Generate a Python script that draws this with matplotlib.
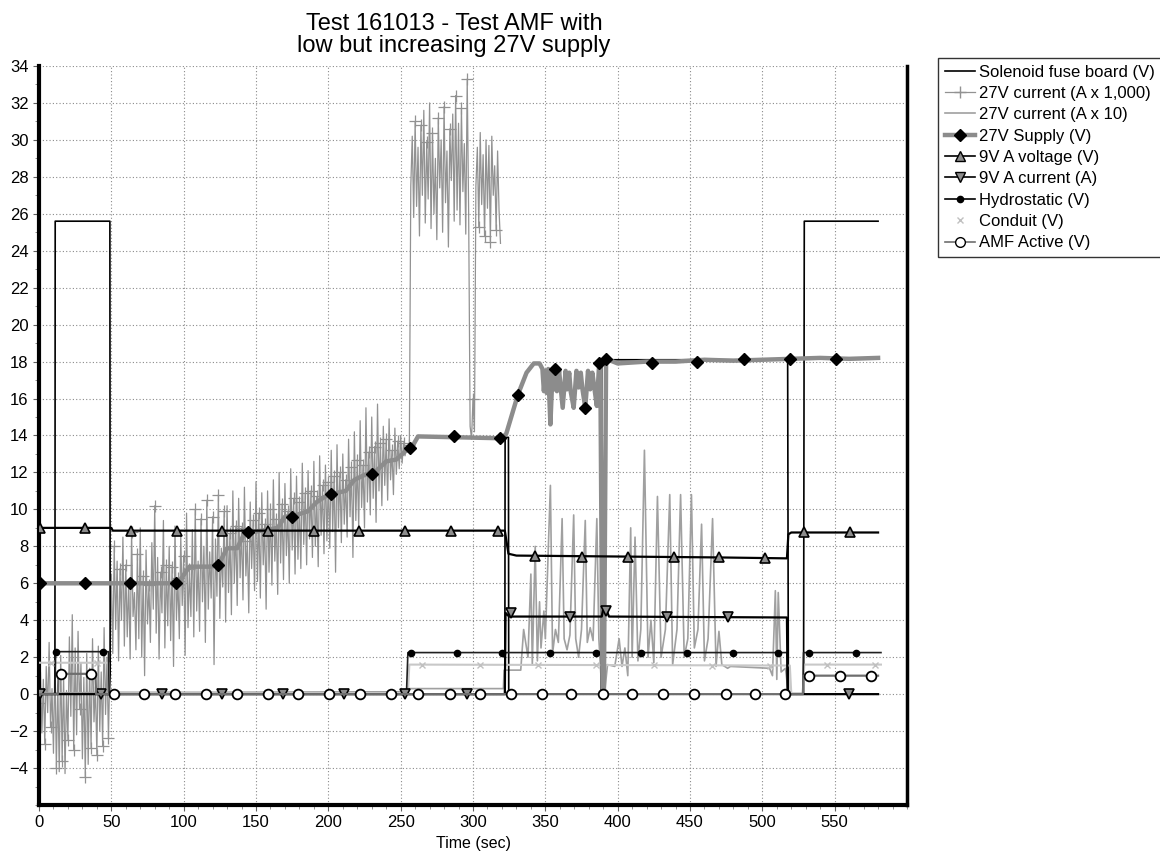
import numpy as np
import matplotlib
matplotlib.use('Agg')
import matplotlib.pyplot as plt
from matplotlib.lines import Line2D
from matplotlib.ticker import MultipleLocator

plt.rcParams['font.family'] = ['Liberation Sans', 'DejaVu Sans']

# --- data ---
# 27V current (A x 1,000), one sample per second, 0..319 s
cur1000 = [
    -0.5, 1.2, -2.1, 0.8, -2.7, 1.5, -1.0, 2.8, -1.8, 0.3,
    -3.2, 1.9, -4.0, 0.5, -4.2, 2.1, -3.6, 1.0, -4.3, 0.2,
    -2.5, 3.1, -1.2, 4.3, -3.0, 2.5, -2.2, 3.4, -0.8, 1.7,
    -3.5, 0.9, -4.5, 2.2, -3.8, 1.4, -2.9, 3.0, -1.5, 0.4,
    -3.3, 2.6, -2.0, 1.2, -2.8, 3.6, -1.1, 2.0, -2.4, 1.5,
    6.5, 2.2, 8.0, 3.5, 7.2, 1.8, 6.8, 4.0, 8.5, 2.6,
    7.0, 3.1, 6.2, 1.9, 8.8, 4.2, 5.5, 2.4, 7.6, 3.0,
    9.0, 2.0, 6.4, 1.0, 7.8, 3.8, 5.9, 2.8, 8.2, 4.6,
    10.2, 3.3, 7.4, 1.9, 6.6, 4.4, 9.4, 2.5, 7.0, 3.7,
    8.0, 2.9, 6.9, 1.5, 9.1, 4.0, 6.3, 3.0, 8.6, 4.8,
    7.5, 2.1, 9.8, 3.6, 6.8, 4.2, 8.9, 3.1, 10.0, 4.5,
    7.2, 3.4, 9.5, 5.0, 8.0, 2.8, 10.5, 4.6, 7.7, 5.2,
    9.6, 1.6, 8.4, 5.3, 10.8, 4.1, 7.9, 5.8, 9.9, 3.9,
    10.2, 5.5, 8.7, 4.3, 11.0, 6.0, 9.1, 4.8, 10.6, 6.3,
    9.0, 5.1, 11.2, 6.4, 8.3, 4.4, 10.4, 6.8, 9.4, 5.6,
    11.5, 6.1, 9.8, 5.2, 10.9, 7.0, 9.2, 4.6, 11.0, 6.6,
    10.0, 5.9, 11.6, 7.2, 9.5, 5.4, 12.0, 7.1, 10.3, 6.2,
    11.4, 7.5, 9.9, 6.0, 12.2, 7.8, 10.6, 6.5, 11.8, 7.3,
    10.4, 6.8, 12.5, 8.1, 10.9, 7.0, 12.1, 8.4, 11.0, 7.4,
    12.6, 8.0, 10.7, 6.9, 12.9, 8.6, 11.3, 7.6, 12.4, 8.3,
    11.5, 7.9, 13.2, 8.8, 11.8, 6.6, 13.5, 9.0, 12.0, 8.2,
    13.0, 9.2, 11.6, 8.5, 13.8, 9.6, 12.3, 7.4, 14.2, 9.4,
    12.7, 8.9, 14.8, 10.1, 12.4, 9.0, 15.5, 10.4, 13.1, 9.7,
    15.0, 10.6, 13.4, 9.3, 15.7, 11.0, 13.6, 10.2, 14.5, 11.3,
    13.8, 10.5, 14.9, 11.6, 13.2, 10.8, 14.4, 11.9, 13.7, 12.2,
    14.0, 12.5, 13.6, 12.9, 13.4, 13.1, 13.5, 27.5, 30.2, 25.8,
    31.0, 26.4, 29.6, 24.8, 30.8, 27.0, 31.6, 25.5, 29.9, 26.8,
    32.0, 25.2, 30.4, 26.0, 29.0, 24.6, 31.2, 27.4, 30.0, 25.0,
    31.8, 26.6, 29.4, 24.2, 30.6, 27.8, 31.4, 25.6, 32.4, 26.2,
    30.9, 25.4, 31.7, 27.2, 29.8, 24.9, 33.3, 26.0, 14.5, 13.8,
    16.0, 14.2, 27.5, 29.6, 25.3, 30.4, 26.5, 29.2, 24.8, 30.0,
    26.3, 29.7, 24.5, 30.2, 27.0, 28.6, 25.1, 29.4, 26.2, 24.4,
]
cur1000_t = np.arange(len(cur1000))

# 27V current (A x 10)
cur10_t = [0, 50, 120, 200, 255, 256, 321, 321.5, 333, 335, 338, 340, 341, 343, 344.5,
           346, 347, 349, 350, 353.5, 355, 357, 359, 361.6, 363, 365, 367, 369.6, 371,
           373, 375, 377.6, 379, 381, 383, 385.6, 387, 389, 391, 393, 398, 401, 403, 405,
           407, 409, 410, 412, 414, 416, 418.5, 421, 423, 425, 427.5, 430, 433, 436, 438,
           441, 443.5, 446, 448.5, 451, 453, 455.5, 458, 460, 462.5, 465.6, 468, 470, 472,
           476, 478, 505, 507, 509, 510, 511, 513, 516, 518, 580]
cur10_v = [0.05, 0.1, 0.1, 0.12, 0.13, 0.3, 0.3, 1.3, 1.3, 3.5, 2.0, 6.5, 1.6, 8.0, 1.8,
           5.0, 2.5, 4.5, 3.0, 11.3, 2.2, 3.5, 2.8, 9.5, 3.0, 2.4, 3.2, 9.7, 3.0,
           2.0, 3.5, 9.4, 2.8, 3.6, 2.9, 9.5, 3.0, 0.2, 0.1, 1.6, 1.5, 3.0, 1.5, 2.5,
           1.0, 9.0, 2.0, 8.5, 1.8, 3.5, 13.2, 2.0, 4.0, 1.7, 10.7, 2.0, 3.5, 10.8, 1.6,
           3.5, 10.8, 2.0, 3.0, 10.8, 2.5, 3.5, 9.2, 1.8, 3.0, 9.5, 1.5, 3.4, 1.6,
           1.4, 1.5, 1.4, 1.0, 5.6, 0.8, 5.5, 1.2, 1.4, 0.0, 0.0]

# Solenoid fuse board (V)
sol_t = [0, 11, 11.2, 49, 49.2, 322, 322.2, 324.5, 324.7, 388.5, 389, 517.5, 518, 528.5, 529, 580]
sol_v = [0.0, 0.0, 25.6, 25.6, 0.0, 0.0, 13.9, 13.9, 0.0, 0.0, 18.1, 18.1, 0.0, 0.0, 25.6, 25.6]

# 27V Supply (V)
sup_t = [0, 96, 104, 118, 124, 130, 137, 142, 150, 158, 165, 170, 178, 186, 192, 200, 206,
         212, 218, 226, 232, 240, 247, 254, 258, 262, 320, 323, 331, 337, 342, 346,
         348, 349, 350, 351, 352, 353.5, 355, 356, 357, 358, 359.5, 362, 364, 365, 366.5,
         367.5, 369.6, 371.5, 373, 374.5, 375.5, 377.6, 379.5, 381, 382.5, 383.5, 385.6,
         387, 388, 389.5, 390.5, 392, 400, 420, 440, 460, 480, 500, 520, 540, 560, 580]
sup_v = [6.0, 6.0, 6.9, 6.9, 7.0, 7.9, 7.9, 8.7, 8.8, 8.9, 9.0, 9.6, 9.7, 9.9, 10.4, 10.8, 10.9,
         11.0, 11.6, 11.9, 12.0, 12.6, 12.7, 13.2, 13.4, 13.95, 13.85, 14.1, 16.2, 17.4, 17.9, 17.9,
         17.6, 16.4, 17.5, 16.3, 17.6, 14.6, 17.5, 16.5, 17.6, 16.4, 17.5, 15.5, 17.5, 16.5, 17.4,
         16.4, 15.5, 17.5, 16.6, 17.4, 16.6, 15.5, 17.5, 16.5, 17.4, 16.8, 15.6,
         17.6, 17.9, 0.3, 0.3, 18.15, 17.9, 18.0, 18.0, 18.1, 18.05, 18.1, 18.15, 18.2, 18.15, 18.2]
sup_mk_t = [0.7, 32, 63, 95, 124, 144.6, 175, 202, 230, 256.6, 287, 319, 331, 357, 377.6,
            387, 392, 424, 455, 487, 519, 551]
sup_mk_v = [6.0, 6.0, 6.0, 6.0, 7.0, 8.75, 9.6, 10.85, 11.9, 13.3, 13.95, 13.85, 16.2, 17.6,
            15.5, 17.9, 18.15, 17.95, 18.0, 18.15, 18.15, 18.15]

# 9V A voltage (V)
v9_t = [0, 50, 51, 322, 324.5, 330, 400, 470, 517, 518, 520, 580]
v9_v = [9.0, 9.0, 8.85, 8.85, 7.6, 7.5, 7.45, 7.4, 7.35, 8.65, 8.75, 8.75]
v9_mk_t = [0.7, 32, 63.6, 95.5, 126.8, 158.4, 190, 221.5, 253, 285, 317,
           343, 375, 407, 438.6, 470, 502, 528.6, 560.4]
v9_mk_v = [9.0, 9.0, 8.85, 8.85, 8.85, 8.85, 8.85, 8.85, 8.85, 8.85, 8.85,
           7.5, 7.45, 7.45, 7.4, 7.4, 7.35, 8.75, 8.75]

# 9V A current (A)
i9_t = [0, 322, 322.5, 325, 389, 390, 392, 394, 517, 517.5, 580]
i9_v = [0.0, 0.0, 4.4, 4.2, 4.2, 4.6, 4.6, 4.2, 4.15, 0.0, 0.0]
i9_mk_t = [1, 43, 85, 126.5, 169, 211, 253, 296, 326, 367, 392, 434, 476.5, 560]
i9_mk_v = [0, 0, 0, 0, 0, 0, 0, 0, 4.4, 4.2, 4.5, 4.2, 4.2, 0.0]

# Hydrostatic (V)
hyd_t = [0, 11, 11.5, 48, 48.5, 254, 255, 517, 517.5, 528, 528.5, 582]
hyd_v = [0.0, 0.0, 2.3, 2.3, 0.0, 0.0, 2.25, 2.25, 0.0, 0.0, 2.25, 2.25]
hyd_mk_t = [12, 44, 257, 289, 320, 353, 385, 416, 448, 480, 511, 532, 565]
hyd_mk_v = [2.3, 2.3, 2.25, 2.25, 2.25, 2.25, 2.25, 2.25, 2.25, 2.25, 2.25, 2.25, 2.25]

# Conduit (V)
con_t = [0, 48, 49, 255, 256, 519, 520, 528, 529, 582]
con_v = [1.7, 1.7, 0.05, 0.05, 1.6, 1.55, 0.05, 0.05, 1.6, 1.6]
con_mk_t = [8, 40, 265, 305, 345, 385, 425, 465, 505, 545, 578]
con_mk_v = [1.7, 1.7, 1.6, 1.6, 1.6, 1.6, 1.6, 1.55, 1.55, 1.6, 1.6]

# AMF Active (V)
amf_t = [0, 13, 13.5, 39, 39.5, 528, 528.5, 580]
amf_v = [0.0, 0.0, 1.1, 1.1, 0.0, 0.0, 1.0, 1.0]
amf_mk_t = [15, 36, 51.5, 72.8, 94.1, 115.4, 136.7, 158, 179.3, 200.6, 221.9, 243.2, 262,
            284, 305, 326.5, 347.5, 368, 390, 410, 431, 453, 475, 495, 516, 532, 554, 575]
amf_mk_v = [1.1, 1.1] + [0.0] * 23 + [1.0, 1.0, 1.0]

fig = plt.figure(figsize=(11.6, 8.56), dpi=100)
ax = fig.add_axes([39 / 1160, 1 - 805 / 856, (907 - 39) / 1160, (805 - 66) / 856])

# noisy current first so the other traces sit on top
ax.plot(cur1000_t, cur1000, color='#929292', lw=0.9, marker='+', ms=9, mew=0.9,
        markevery=4, zorder=2)
ax.plot(cur10_t, cur10_v, color='#a0a0a0', lw=1.2, zorder=2)
ax.plot(sol_t, sol_v, color='black', lw=1.2, zorder=3)
ax.plot(con_t, con_v, color='#c8c8c8', lw=1.5, zorder=3)
ax.plot(con_mk_t, con_mk_v, ls='none', marker='x', ms=5, color='#c0c0c0', zorder=3)
ax.plot(hyd_t, hyd_v, color='#202020', lw=1.2, zorder=4)
ax.plot(hyd_mk_t, hyd_mk_v, ls='none', marker='o', ms=4.5, color='black', zorder=4)
ax.plot(sup_t, sup_v, color='#8c8c8c', lw=3.2, zorder=4)
ax.plot(sup_mk_t, sup_mk_v, ls='none', marker='D', ms=6, color='black', zorder=5)
ax.plot(v9_t, v9_v, color='black', lw=1.6, zorder=5)
ax.plot(v9_mk_t, v9_mk_v, ls='none', marker='^', ms=7.5, mfc='#8c8c8c', mec='black', mew=1.2, zorder=6)
ax.plot(i9_t, i9_v, color='black', lw=1.6, zorder=5)
ax.plot(i9_mk_t, i9_mk_v, ls='none', marker='v', ms=7.5, mfc='#8c8c8c', mec='black', mew=1.2, zorder=6)
ax.plot(amf_t, amf_v, color='#6e6e6e', lw=1.6, zorder=6)
ax.plot(amf_mk_t, amf_mk_v, ls='none', marker='o', ms=7, mfc='white', mec='black', mew=1.3, zorder=7)

ax.set_xlim(0, 600)
ax.set_ylim(-6, 34)
ax.set_xticks(range(0, 551, 50))
ax.xaxis.set_minor_locator(MultipleLocator(10))
ax.set_yticks(range(-4, 35, 2))
ax.yaxis.set_minor_locator(MultipleLocator(1))
ax.tick_params(axis='both', which='major', labelsize=12, length=4, width=0.8,
               color='#606060', direction='out')
ax.tick_params(axis='both', which='minor', length=3, width=0.6, color='#808080')
ax.grid(True, which='major', color='#8a8a8a', lw=0.8, ls=(0, (1, 2)))
ax.set_axisbelow(True)

for side in ['left', 'bottom']:
    ax.spines[side].set_linewidth(3)
ax.spines['right'].set_linewidth(2.5)
ax.spines['top'].set_visible(False)

ax.set_xlabel('Time (sec)', fontsize=11.5, labelpad=4)
fig.text(454 / 1160, 1 - 13 / 856, 'Test 161013 - Test AMF with\nlow but increasing 27V supply',
         ha='center', va='top', fontsize=17, linespacing=1.0)

handles = [
    Line2D([], [], color='black', lw=1.2),
    Line2D([], [], color='#929292', lw=0.9, marker='+', ms=9),
    Line2D([], [], color='#a0a0a0', lw=1.2),
    Line2D([], [], color='#8c8c8c', lw=3.2, marker='D', ms=6, mfc='black', mec='black'),
    Line2D([], [], color='black', lw=1.2, marker='^', ms=7.5, mfc='#8c8c8c', mec='black'),
    Line2D([], [], color='black', lw=1.2, marker='v', ms=7.5, mfc='#8c8c8c', mec='black'),
    Line2D([], [], color='black', lw=1.2, marker='o', ms=4.5),
    Line2D([], [], ls='none', marker='x', ms=5, color='#c0c0c0'),
    Line2D([], [], color='#6e6e6e', lw=1.2, marker='o', ms=7, mfc='white', mec='black'),
]
labels = ['Solenoid fuse board (V)', '27V current (A x 1,000)', '27V current (A x 10)',
          '27V Supply (V)', '9V A voltage (V)', '9V A current (A)', 'Hydrostatic (V)',
          'Conduit (V)', 'AMF Active (V)']
leg = fig.legend(handles, labels, loc='upper left', bbox_to_anchor=(938 / 1160, 1 - 58 / 856),
                 fontsize=12, frameon=True, fancybox=False, shadow=False, borderaxespad=0,
                 handlelength=1.8, handletextpad=0.25, labelspacing=0.38, borderpad=0.4,
                 numpoints=1)
leg.get_frame().set_edgecolor('black')
leg.get_frame().set_linewidth(1.0)

fig.savefig('out.png', dpi=100)
